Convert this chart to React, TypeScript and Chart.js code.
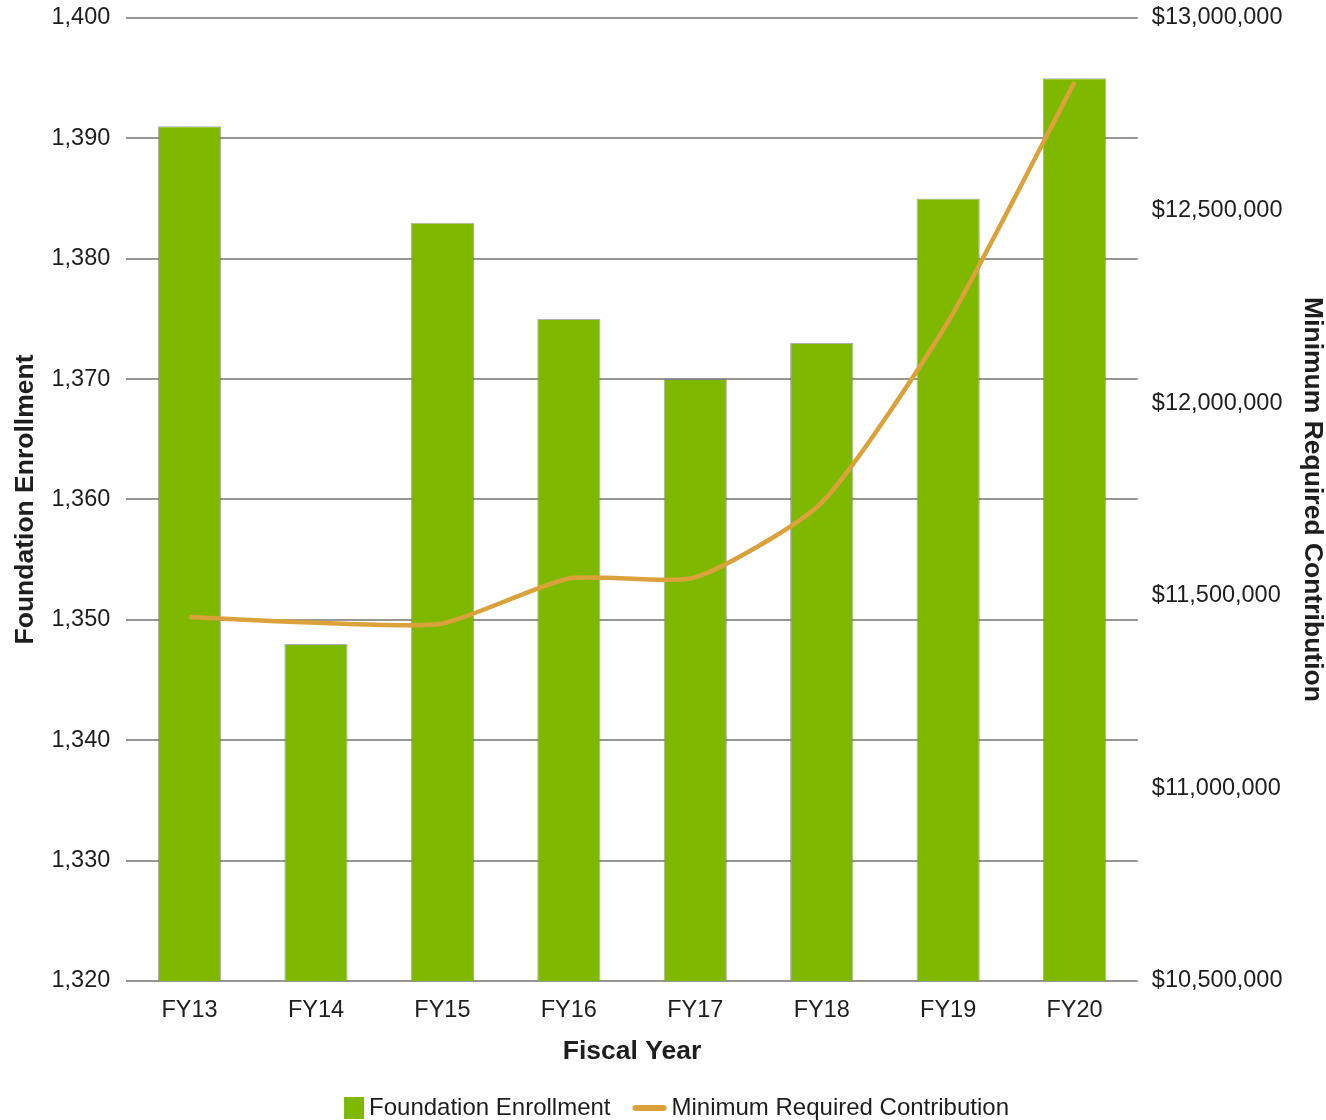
import React, { useEffect, useRef } from "react";
import { Chart, registerables } from "chart.js";

Chart.register(...registerables);

// Fiscal years shown on the category axis
const fiscalYears = ["FY13", "FY14", "FY15", "FY16", "FY17", "FY18", "FY19", "FY20"];

// Foundation enrollment per year (left axis)
const enrollment = [1391, 1348, 1383, 1375, 1370, 1373, 1385, 1395];

// Minimum required contribution per year in dollars (right axis)
const minContribution = [11445000, 11430000, 11428000, 11545000, 11548000, 11742000, 12212000, 12834000];

// Axis ranges
const enrollmentRange = { min: 1320, max: 1400, step: 10 };
const contributionRange = { min: 10500000, max: 13000000, step: 500000 };

const BAR_GREEN = "#7fb800";
const LINE_GOLD = "#dba23c";
const TEXT = "#1e1e1e";
const GRID = "#969696";
const FONT = "'Liberation Sans', Arial, Helvetica, sans-serif";
const TICK_SIZE = 23.5;
const TITLE_SIZE = 26.5;
const LEGEND_SIZE = 24;

// Legend swatches: the coloured part sits at the right of a wider transparent
// canvas so it ends just before the legend text.
function makeSwatch(colorLeft: number, h: number, color: string, radius = 0): HTMLCanvasElement {
  const c = document.createElement("canvas");
  c.width = 60;
  c.height = 24;
  const ctx = c.getContext("2d")!;
  ctx.fillStyle = color;
  const right = 52;
  const y = (c.height - h) / 2;
  ctx.beginPath();
  if (radius > 0) ctx.roundRect(colorLeft, y, right - colorLeft, h, radius);
  else ctx.rect(colorLeft, y, right - colorLeft, h);
  ctx.fill();
  return c;
}

// Pin the top of the plot area independently from tick padding
const pinTop = (scale: any) => {
  scale.paddingTop = 18;
};

export default function App() {
  const canvasRef = useRef<HTMLCanvasElement | null>(null);

  useEffect(() => {
    const canvas = canvasRef.current;
    if (!canvas) return;

    const barSwatch = makeSwatch(32, 22, BAR_GREEN);
    const lineSwatch = makeSwatch(18, 6, LINE_GOLD, 3);

    const chart = new Chart(canvas, {
      type: "bar",
      data: {
        labels: fiscalYears,
        datasets: [
          {
            type: "bar",
            label: "Foundation Enrollment",
            data: enrollment,
            yAxisID: "y",
            backgroundColor: BAR_GREEN,
            borderColor: "rgba(110,110,110,0.55)",
            borderWidth: 1,
            barPercentage: 0.5,
            categoryPercentage: 1.0,
            order: 1,
          },
          {
            type: "line",
            label: "Minimum Required Contribution",
            data: minContribution,
            yAxisID: "y1",
            borderColor: LINE_GOLD,
            backgroundColor: LINE_GOLD,
            borderWidth: 4.5,
            tension: 0.2,
            pointRadius: 0,
            pointHoverRadius: 0,
            fill: false,
            order: 0,
          },
        ],
      },
      options: {
        responsive: false,
        animation: false,
        layout: { padding: { top: 0, left: 10, right: 0, bottom: -10 } },
        plugins: {
          tooltip: { enabled: false },
          legend: {
            position: "bottom",
            labels: {
              usePointStyle: true,
              pointStyleWidth: 30,
              padding: 19,
              color: TEXT,
              font: { family: FONT, size: LEGEND_SIZE },
              sort: (a: any, b: any) => a.datasetIndex - b.datasetIndex,
              generateLabels: (ch: any) => {
                const items = Chart.defaults.plugins.legend.labels.generateLabels(ch);
                return items.map((it: any) => ({
                  ...it,
                  pointStyle: it.datasetIndex === 0 ? barSwatch : lineSwatch,
                }));
              },
            },
          },
        },
        scales: {
          x: {
            grid: { display: false, drawTicks: false },
            border: { display: false },
            ticks: { color: TEXT, font: { family: FONT, size: TICK_SIZE }, padding: 15 },
            title: {
              display: true,
              text: "Fiscal Year",
              color: TEXT,
              font: { family: FONT, size: TITLE_SIZE, weight: "bold", lineHeight: 1 },
              padding: { top: -1, bottom: 12.35 },
            },
          },
          y: {
            position: "left",
            min: enrollmentRange.min,
            max: enrollmentRange.max,
            afterFit: pinTop,
            grid: { color: GRID, lineWidth: 2, drawTicks: false },
            border: { display: false },
            ticks: {
              stepSize: enrollmentRange.step,
              color: TEXT,
              font: { family: FONT, size: TICK_SIZE },
              padding: 16,
              callback: (v: any) => Number(v).toLocaleString("en-US"),
            },
            title: {
              display: true,
              text: "Foundation Enrollment",
              color: TEXT,
              font: { family: FONT, size: TITLE_SIZE, weight: "bold", lineHeight: 1 },
              padding: { top: 2, bottom: -3 },
            },
          },
          y1: {
            position: "right",
            min: contributionRange.min,
            max: contributionRange.max,
            afterFit: pinTop,
            grid: { display: false, drawTicks: false },
            border: { display: false },
            ticks: {
              stepSize: contributionRange.step,
              color: TEXT,
              font: { family: FONT, size: TICK_SIZE },
              padding: 14,
              callback: (v: any) => "$" + Number(v).toLocaleString("en-US"),
            },
            title: {
              display: true,
              text: "Minimum Required Contribution",
              color: TEXT,
              font: { family: FONT, size: TITLE_SIZE, weight: "bold", lineHeight: 1 },
              padding: { top: 0, bottom: 3 },
            },
          },
        },
      },
    });

    return () => chart.destroy();
  }, []);

  return (
    <div style={{ position: "absolute", left: 0, top: 0, width: 1326, height: 1120, background: "#ffffff" }}>
      <canvas ref={canvasRef} width={1326} height={1120} style={{ display: "block" }} />
    </div>
  );
}
